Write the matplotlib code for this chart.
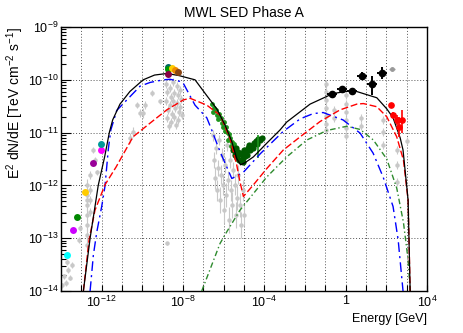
import numpy as np
import matplotlib
matplotlib.use('Agg')
import matplotlib.pyplot as plt
from matplotlib.ticker import FixedLocator, FuncFormatter, NullFormatter

plt.rcParams['font.family'] = ['Liberation Sans', 'DejaVu Sans']
plt.rcParams['mathtext.fontset'] = 'custom'
plt.rcParams['mathtext.rm'] = 'Liberation Sans'
plt.rcParams['mathtext.it'] = 'Liberation Sans:italic'
plt.rcParams['mathtext.bf'] = 'Liberation Sans:bold'

# ---- model curves (log10 E [GeV], log10 E2dN/dE [TeV cm-2 s-1]) ----
total_logE = [-12.90, -12.57, -12.17, -11.85, -11.62, -11.46, -11.10, -10.61, -9.96, -9.40,
              -8.79, -8.20, -7.41, -6.83, -6.34, -5.93, -5.60, -5.36, -5.17, -4.95,
              -4.54, -3.88, -3.23, -2.90, -1.75, -0.62, 0.36, 1.53, 2.02, 2.33,
              2.68, 2.82, 3.07, 3.17]
total_logF = [-14.00, -13.00, -12.00, -11.45, -10.99, -10.76, -10.46, -10.22, -10.00, -9.91,
              -9.88, -9.92, -10.00, -10.30, -10.55, -10.86, -11.17, -11.49, -11.61, -11.57,
              -11.46, -11.20, -10.95, -10.80, -10.46, -10.26, -10.20, -10.34, -10.55, -10.72,
              -11.10, -11.33, -12.28, -14.00]

red_logE = [-12.90, -12.62, -12.33, -11.84, -11.29, -10.46, -9.62, -8.80, -7.98, -7.65,
            -6.83, -6.18, -5.69, -5.36, -5.20, -5.03, -4.54, -3.88, -3.07, -2.24,
            -1.26, -0.28, 0.55, 0.87, 1.53, 2.02, 2.51, 2.84, 3.07, 3.17]
red_logF = [-14.00, -13.03, -12.47, -11.99, -11.65, -11.08, -10.82, -10.57, -10.38, -10.35,
            -10.48, -10.67, -11.11, -11.61, -11.93, -12.21, -11.99, -11.68, -11.33, -11.08,
            -10.79, -10.57, -10.46, -10.45, -10.51, -10.70, -11.08, -11.52, -12.28, -14.00]

blue_logE = [-12.57, -12.41, -12.24, -12.00, -11.84, -11.67, -11.55, -11.26, -10.11, -9.62,
             -8.97, -8.64, -8.15, -7.98, -7.41, -6.83, -6.59, -6.18, -5.85, -5.60,
             -5.03, -4.20, -3.08, -2.24, -1.60, -1.11, -0.13, 0.71, 1.35, 1.84,
             2.33, 2.58, 2.82]
blue_logF = [-14.00, -13.32, -12.88, -12.40, -12.02, -11.30, -10.95, -10.58, -10.12, -10.05,
             -10.00, -9.99, -10.03, -10.07, -10.48, -10.72, -10.95, -11.36, -11.65, -11.87,
             -11.75, -11.40, -10.98, -10.74, -10.64, -10.62, -10.76, -11.01, -11.39, -11.84,
             -12.40, -13.03, -14.00]

green_logE = [-7.08, -6.18, -5.85, -5.20, -3.88, -2.90, -1.91, -0.93, 0.05, 0.71,
              1.36, 2.02, 2.51, 2.84, 3.07, 3.17]
green_logF = [-14.00, -13.10, -12.88, -12.47, -11.84, -11.46, -11.14, -10.96, -10.88, -10.94,
              -11.14, -11.50, -12.05, -12.70, -13.41, -14.00]

# ---- archival data (grey) ----
gray_radio_logE = [-13.70, -13.66, -13.56, -13.75, -13.46, -13.95, -13.85, -12.72, -12.72, -12.72,
                   -12.72, -12.72, -12.72, -12.72, -12.72, -12.57, -12.57, -12.57, -12.57, -13.07,
                   -13.11, -12.33, -12.23, -12.43]
gray_radio_logF = [-13.45, -13.60, -13.75, -13.85, -13.51, -13.89, -13.72, -11.99, -12.18, -12.37,
                   -12.56, -12.75, -12.94, -13.13, -12.28, -11.80, -12.08, -12.28, -12.50, -12.81,
                   -13.03, -11.52, -11.75, -11.33]
gray_radio_err = [0.05, 0.05, 0.05, 0.05, 0.05, 0.05, 0.05, 0.12, 0.12, 0.12,
                  0.12, 0.12, 0.12, 0.12, 0.12, 0.08, 0.08, 0.08, 0.08, 0.06,
                  0.06, 0.05, 0.05, 0.05]

gray_opt_logE = [-8.84, -8.79, -8.84, -8.74, -8.79, -8.69, -8.64, -8.59, -8.64, -8.54,
                 -8.59, -8.49, -8.44, -8.49, -8.39, -8.44, -8.34, -8.29, -8.24, -8.29,
                 -8.20, -8.24, -8.15, -8.10, -8.15, -8.05, -10.28, -10.11, -10.46, -10.61,
                 -9.54, -9.87, -9.95, -9.13, -8.80]
gray_opt_logF = [-10.08, -10.23, -10.40, -10.57, -10.72, -10.88, -10.16, -10.33, -10.48, -10.65,
                 -10.80, -10.04, -10.25, -10.40, -10.53, -10.70, -10.86, -10.12, -10.29, -10.44,
                 -10.61, -10.76, -10.19, -10.36, -10.52, -10.67, -10.48, -10.63, -10.99, -11.10,
                 -10.25, -10.48, -10.63, -10.41, -13.10]
gray_opt_err = [0.08] * 26 + [0.06, 0.08, 0.1, 0.1, 0.05, 0.08, 0.1, 0.05, 0.03]

gray_x_logE = [-6.52, -6.47, -6.42, -6.38, -6.33, -6.28, -6.23, -6.18, -6.13, -6.08,
               -6.03, -5.98, -5.93, -5.88, -5.83, -5.79, -5.74, -5.69, -5.64, -5.59,
               -5.54, -5.49, -5.44, -5.39, -5.34, -5.29, -5.20, -5.15, -5.05, -5.00]
gray_x_logF = [-11.05, -11.52, -11.86, -11.29, -12.09, -11.67, -11.14, -12.28, -11.80, -11.42,
               -11.99, -12.47, -11.61, -12.18, -11.23, -11.90, -12.66, -11.52, -12.09, -12.37,
               -11.71, -11.33, -11.99, -12.56, -12.24, -11.80, -12.37, -12.75, -12.09, -12.56]
gray_x_err = [0.10, 0.15, 0.20, 0.12, 0.20, 0.15, 0.10, 0.25, 0.18, 0.12,
              0.20, 0.25, 0.15, 0.22, 0.12, 0.18, 0.25, 0.15, 0.20, 0.25,
              0.15, 0.12, 0.20, 0.25, 0.22, 0.18, 0.22, 0.25, 0.20, 0.20]

gray_g_logE = [-0.97, -0.97, -0.97, -0.97, -0.97, -0.97, -0.97, 0.02, 0.02, 0.02,
               0.02, 0.02, 0.02, -0.57, -0.57, 0.76, 0.76, 1.84, 1.84, 1.84,
               2.53, 2.53, 2.53, 3.02]
gray_g_logF = [-10.08, -10.23, -10.38, -10.53, -10.69, -10.84, -10.95, -10.29, -10.46, -10.61,
               -10.76, -10.91, -11.06, -10.57, -10.72, -10.72, -10.88, -10.76, -10.99, -11.23,
               -11.33, -11.61, -11.94, -11.16]
gray_g_err = [0.08] * 24

# ---- coloured radio / optical points ----
radio_logE = [-13.72, -13.39, -13.23, -12.82, -12.44, -12.03, -12.03]
radio_logF = [-13.32, -12.84, -12.60, -12.12, -11.58, -11.32, -11.22]
radio_colors = ['#00ffff', '#cc00ff', '#008800', '#ffcc00', '#990099', '#ff00ff', '#009999']

opt_logE = [-8.74, -8.74, -8.74, -8.55, -8.39, -8.23]
opt_logF = [-9.75, -9.80, -9.89, -9.78, -9.82, -9.86]
opt_colors = ['#006666', '#009900', '#880044', '#ffcc00', '#ee8800', '#8b4513']

# ---- X-ray band (green) ----
xband_logE = [-6.57, -6.47, -6.52, -6.38, -6.33, -6.23, -6.28, -6.13, -6.08, -5.98,
              -6.03, -5.88, -5.83, -5.93, -5.74, -5.69, -5.79, -5.59, -5.64, -5.54,
              -5.49, -5.44]
xband_logF = [-10.46, -10.53, -10.61, -10.57, -10.67, -10.65, -10.74, -10.72, -10.82, -10.80,
              -10.89, -10.89, -10.99, -10.97, -11.03, -11.10, -11.14, -11.18, -11.25, -11.31,
              -11.22, -11.37]

xblob_logE = [-5.54, -5.44, -5.34, -5.24, -5.15, -5.05, -5.39, -5.29, -5.20, -5.10,
              -5.00, -4.90, -4.95, -4.80, -4.70, -4.75, -4.61, -4.51, -4.56, -4.41,
              -4.31, -4.36, -4.21, -4.11, -4.85, -5.05]
xblob_logF = [-11.33, -11.42, -11.48, -11.52, -11.54, -11.48, -11.29, -11.37, -11.41, -11.39,
              -11.33, -11.37, -11.44, -11.29, -11.33, -11.23, -11.25, -11.20, -11.29, -11.16,
              -11.12, -11.22, -11.14, -11.10, -11.42, -11.56]

# ---- Fermi-LAT (black) ----
lat_logE = [-0.685, -0.19, 0.33, 0.82, 1.31, 1.80]
lat_logF = [-10.27, -10.18, -10.21, -9.93, -10.08, -9.87]
lat_dx = [0.25, 0.25, 0.25, 0.25, 0.25, 0.25]
lat_up = [0.04, 0.04, 0.06, 0.07, 0.15, 0.11]
lat_lo = [0.04, 0.04, 0.06, 0.07, 0.21, 0.11]

# ---- IACT (red) ----
tev_logE = [2.22, 2.35, 2.51, 2.64, 2.76]
tev_logF = [-10.48, -10.67, -10.76, -10.89, -10.77]
tev_up = [0.05, 0.06, 0.10, 0.19, 0.20]
tev_lo = [0.05, 0.06, 0.10, 0.19, 0.23]

ul_logE = [2.27]
ul_logF = [-9.80]


def p10(a):
    return 10.0 ** np.asarray(a, dtype=float)


def logerr(logv, up, lo):
    v = p10(logv)
    return [v - v * p10(-np.asarray(lo)), v * p10(up) - v]


fig = plt.figure(figsize=(4.63, 3.33), dpi=100)
ax = fig.add_axes([0.1318, 0.1261, 0.7905, 0.7928])
ax.set_xscale('log')
ax.set_yscale('log')
ax.set_xlim(1e-14, 1e4)
ax.set_ylim(1e-14, 1e-9)

gcol = '#c8c8c8'
for lE, lF, er in [(gray_radio_logE, gray_radio_logF, gray_radio_err),
                   (gray_opt_logE, gray_opt_logF, gray_opt_err),
                   (gray_x_logE, gray_x_logF, gray_x_err),
                   (gray_g_logE, gray_g_logF, gray_g_err)]:
    ax.errorbar(p10(lE), p10(lF), yerr=logerr(lF, er, er), fmt='o', ms=2.2,
                color=gcol, mec=gcol, elinewidth=0.8, capsize=0, zorder=1)

ax.errorbar(p10(ul_logE), p10(ul_logF), xerr=logerr(ul_logE, [0.15], [0.15]),
            fmt='o', ms=2.5, color='#999999', elinewidth=1, capsize=0, zorder=2)

# X-ray band
ax.plot(p10(xband_logE), p10(xband_logF), 'o', ms=3.5, color='#1e961e', mec='none', zorder=3)
ax.plot(p10(xblob_logE), p10(xblob_logF), 'o', ms=4.5, color='#005a00', mec='none', zorder=3)
ax.errorbar([10 ** -4.31], [10 ** -11.22], yerr=logerr([-11.22], [0.17], [0.26]),
            fmt='none', ecolor='#1e961e', elinewidth=1.2, zorder=3)

# models
ax.plot(p10(green_logE), p10(green_logF), color='#2e8b2e', lw=1, dashes=(4, 2, 1, 2), zorder=4)
ax.plot(p10(blue_logE), p10(blue_logF), color='blue', lw=1, dashes=(7, 3, 1.5, 3), zorder=4)
ax.plot(p10(red_logE), p10(red_logF), color='red', lw=1, dashes=(5, 2), zorder=4)
ax.plot(p10(total_logE), p10(total_logF), color='black', lw=0.9, zorder=5)

# coloured points
for lE, lF, c in zip(radio_logE, radio_logF, radio_colors):
    ax.plot(10 ** lE, 10 ** lF, 'o', ms=5, color=c, mec='none', zorder=6)
for lE, lF, c in zip(opt_logE, opt_logF, opt_colors):
    ax.plot(10 ** lE, 10 ** lF, 'o', ms=5, color=c, mec='none', zorder=6)

ax.errorbar(p10(lat_logE), p10(lat_logF), xerr=logerr(lat_logE, lat_dx, lat_dx),
            yerr=logerr(lat_logF, lat_up, lat_lo), fmt='o', ms=4.5, color='black',
            elinewidth=1.4, capsize=0, zorder=7)
ax.errorbar(p10(tev_logE), p10(tev_logF), xerr=logerr(tev_logE, [0.04] * 5, [0.04] * 5),
            yerr=logerr(tev_logF, tev_up, tev_lo), fmt='o', ms=3.8, color='red',
            elinewidth=1.2, capsize=0, zorder=7)

# axes cosmetics
xmaj = [10.0 ** k for k in range(-14, 5)]
ax.xaxis.set_major_locator(FixedLocator(xmaj))
xlab = {-12: r'$10^{-12}$', -8: r'$10^{-8}$', -4: r'$10^{-4}$', 0: '1', 4: r'$10^{4}$'}
ax.xaxis.set_major_formatter(FuncFormatter(
    lambda v, p: xlab.get(int(round(np.log10(v))), '')))
ax.xaxis.set_minor_locator(FixedLocator([]))
ax.xaxis.set_minor_formatter(NullFormatter())

ymaj = [10.0 ** k for k in range(-14, -8)]
ax.yaxis.set_major_locator(FixedLocator(ymaj))
ax.yaxis.set_major_formatter(FuncFormatter(
    lambda v, p: r'$10^{%d}$' % int(round(np.log10(v)))))
ymin = [m * 10.0 ** k for k in range(-14, -9) for m in range(2, 10)]
ax.yaxis.set_minor_locator(FixedLocator(ymin))
ax.yaxis.set_minor_formatter(NullFormatter())

ax.tick_params(which='both', direction='in', top=False, right=False, labelsize=9)
ax.tick_params(axis='y', which='major', length=7, width=0.8, pad=2)
ax.tick_params(axis='y', which='minor', length=3.5, width=0.8)
ax.tick_params(axis='x', which='major', length=4.5, width=0.8, pad=3)
ax.grid(True, which='major', color='#555555', ls=(0, (1, 2)), lw=0.7)
ax.set_axisbelow(True)
for s in ax.spines.values():
    s.set_linewidth(1.0)

ax.set_title('MWL SED Phase A', fontsize=10, pad=7)
ax.set_xlabel('Energy [GeV]', fontsize=9, loc='right', labelpad=2)
ax.set_ylabel(r'E$^{2}$ dN/dE [TeV cm$^{-2}$ s$^{-1}$]', fontsize=10, loc='top', labelpad=1)

fig.savefig('out.png', dpi=100)
